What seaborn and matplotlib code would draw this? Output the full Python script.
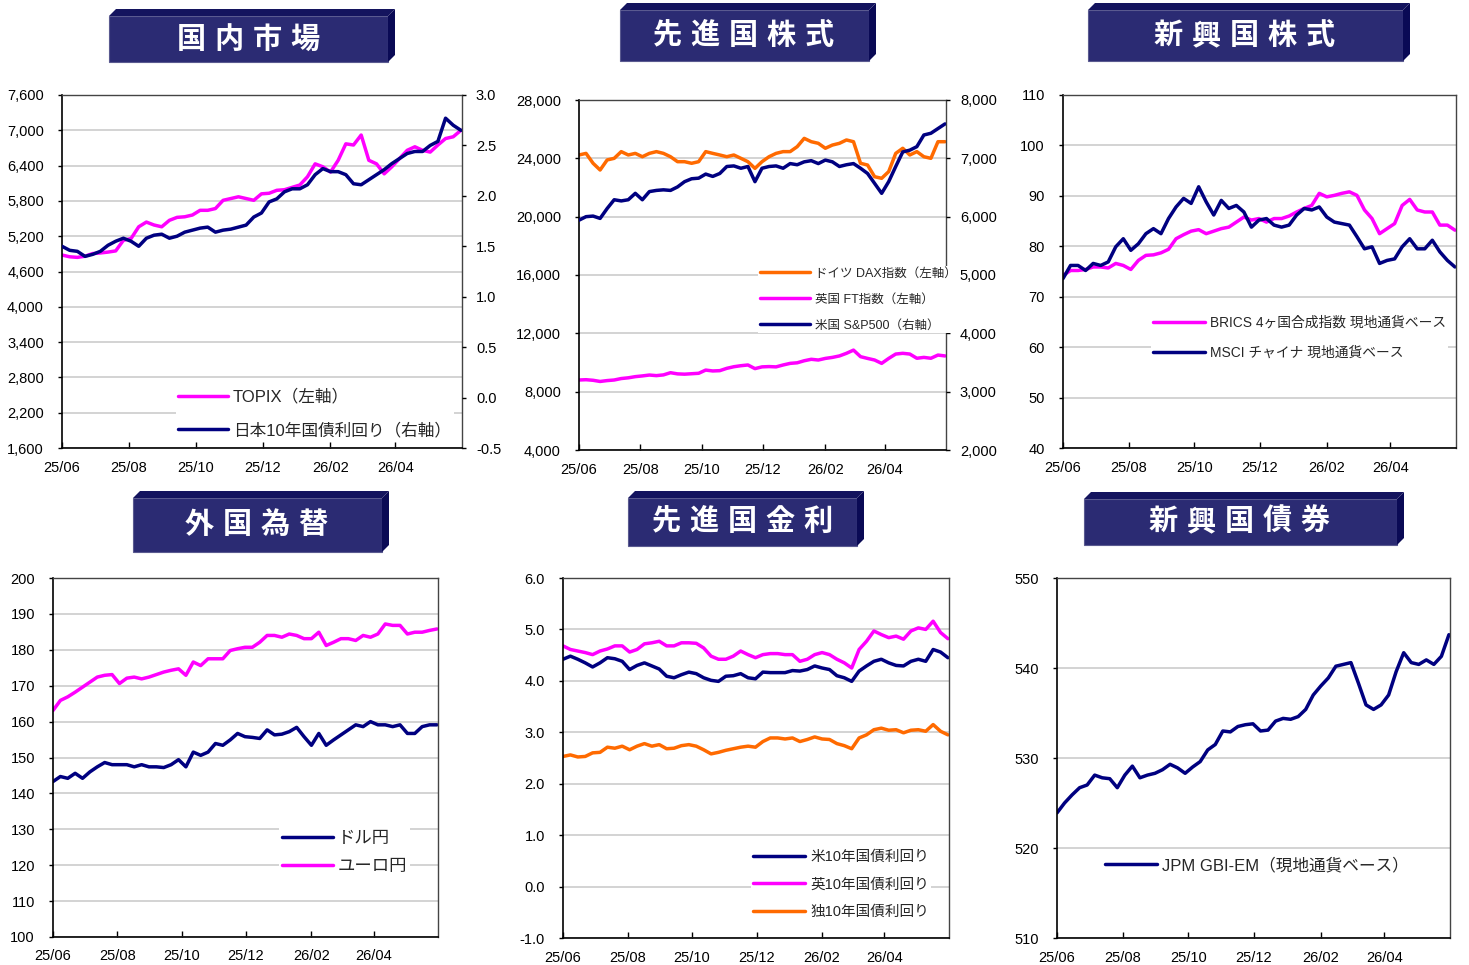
import numpy as np
import pandas as pd
import matplotlib
matplotlib.use('Agg')
import matplotlib.pyplot as plt
import matplotlib.dates as mdates
from matplotlib.ticker import FuncFormatter, FixedLocator
from matplotlib.patches import Polygon
import seaborn as sns

# ---------------- data ----------------
dates = pd.date_range('2025-06-01', periods=53, freq='7D')
x_ticks = ['2025-06-01', '2025-08-01', '2025-10-01', '2025-12-01', '2026-02-01', '2026-04-01']

topix = [4880, 4850, 4840, 4860, 4905, 4915, 4930, 4950, 5130, 5160, 5360, 5440, 5390, 5360, 5470,
         5520, 5530, 5560, 5640, 5640, 5670, 5810, 5840, 5870, 5840, 5810, 5920, 5930, 5980, 5990,
         6030, 6070, 6210, 6430, 6380, 6290, 6490, 6770, 6750, 6920, 6490, 6430, 6260, 6380, 6520,
         6660, 6720, 6660, 6630, 6750, 6860, 6890, 7000]
jgb10 = [1.50, 1.46, 1.45, 1.40, 1.42, 1.45, 1.51, 1.55, 1.58, 1.55, 1.50, 1.58, 1.61, 1.62, 1.58,
         1.60, 1.64, 1.66, 1.68, 1.69, 1.64, 1.66, 1.67, 1.69, 1.71, 1.79, 1.83, 1.94, 1.97, 2.04,
         2.07, 2.07, 2.11, 2.21, 2.27, 2.24, 2.24, 2.21, 2.12, 2.11, 2.16, 2.21, 2.26, 2.32, 2.37,
         2.42, 2.44, 2.44, 2.50, 2.54, 2.77, 2.70, 2.65]

dax = [24230, 24340, 23660, 23200, 23890, 24000, 24460, 24230, 24340, 24110, 24340, 24460, 24340,
       24110, 23770, 23770, 23660, 23770, 24460, 24340, 24230, 24110, 24230, 24000, 23770, 23310,
       23770, 24110, 24340, 24460, 24460, 24800, 25370, 25140, 25030, 24690, 24910, 25030, 25260,
       25140, 23660, 23540, 22740, 22630, 23090, 24340, 24690, 24230, 24460, 24110, 24000, 25140, 25140]
ft = [8800, 8820, 8780, 8700, 8760, 8800, 8900, 8950, 9030, 9080, 9140, 9100, 9150, 9300, 9220,
      9200, 9230, 9260, 9480, 9420, 9440, 9600, 9710, 9780, 9830, 9580, 9700, 9720, 9700, 9830,
      9940, 9980, 10120, 10220, 10170, 10280, 10350, 10450, 10630, 10850, 10400, 10280, 10170,
      9940, 10280, 10580, 10630, 10580, 10290, 10350, 10290, 10510, 10450]
sp500 = [5940, 6000, 6010, 5970, 6140, 6290, 6270, 6290, 6400, 6290, 6430, 6450, 6460, 6450, 6510,
         6600, 6650, 6660, 6730, 6690, 6740, 6860, 6870, 6830, 6860, 6600, 6830, 6860, 6870, 6830,
         6910, 6890, 6940, 6960, 6910, 6970, 6940, 6860, 6890, 6910, 6830, 6740, 6570, 6400, 6600,
         6860, 7110, 7140, 7200, 7400, 7430, 7510, 7590]

brics = [74.2, 75.2, 75.2, 75.4, 75.9, 75.9, 75.7, 76.6, 76.2, 75.4, 77.2, 78.2, 78.3, 78.7, 79.4,
         81.5, 82.3, 83.0, 83.3, 82.5, 83.0, 83.5, 83.8, 84.8, 85.8, 85.2, 85.5, 84.8, 85.5, 85.5,
         86.0, 86.8, 87.5, 88.1, 90.5, 89.8, 90.1, 90.5, 90.8, 90.1, 87.2, 85.5, 82.5, 83.5, 84.5,
         88.1, 89.3, 87.2, 86.8, 86.8, 84.2, 84.2, 83.2]
msci_china = [73.6, 76.2, 76.2, 75.2, 76.6, 76.2, 76.9, 79.9, 81.5, 79.2, 80.5, 82.5, 83.5, 82.5,
              85.5, 87.8, 89.5, 88.5, 91.8, 88.8, 86.2, 89.1, 87.5, 88.1, 86.8, 83.8, 85.2, 85.5,
              84.2, 83.8, 84.2, 86.2, 87.5, 87.2, 87.8, 85.8, 84.8, 84.5, 84.2, 81.9, 79.5, 79.9,
              76.6, 77.2, 77.5, 79.9, 81.5, 79.5, 79.5, 81.2, 78.9, 77.2, 75.9]

eurjpy = [163.1, 165.9, 166.9, 168.2, 169.6, 171.0, 172.4, 172.9, 173.1, 170.6, 172.1, 172.4, 171.9,
          172.4, 173.1, 173.8, 174.3, 174.7, 172.9, 176.6, 175.6, 177.5, 177.5, 177.5, 179.8, 180.3,
          180.7, 180.7, 182.1, 184.0, 184.0, 183.5, 184.4, 184.0, 183.1, 183.1, 184.9, 181.2, 182.1,
          183.1, 183.1, 182.6, 184.0, 183.5, 184.4, 187.2, 186.8, 186.8, 184.4, 184.9, 184.9, 185.4, 185.8]
usdjpy = [143.3, 144.7, 144.2, 145.6, 144.2, 146.0, 147.4, 148.6, 148.0, 148.0, 148.0, 147.4, 148.0,
          147.4, 147.4, 147.2, 148.0, 149.4, 147.4, 151.5, 150.6, 151.5, 153.9, 153.4, 154.9, 156.7,
          155.8, 155.6, 155.3, 157.7, 156.3, 156.5, 157.2, 158.4, 155.8, 153.4, 156.7, 153.4, 154.9,
          156.3, 157.7, 159.1, 158.6, 160.0, 159.1, 159.1, 158.6, 159.1, 156.7, 156.7, 158.6, 159.1, 159.1]

us10 = [4.42, 4.48, 4.42, 4.35, 4.27, 4.35, 4.45, 4.43, 4.38, 4.22, 4.30, 4.35, 4.29, 4.23, 4.09,
        4.06, 4.12, 4.17, 4.14, 4.06, 4.01, 3.99, 4.09, 4.10, 4.14, 4.06, 4.04, 4.17, 4.16, 4.16,
        4.16, 4.20, 4.19, 4.22, 4.29, 4.25, 4.22, 4.10, 4.06, 3.99, 4.19, 4.29, 4.38, 4.42, 4.35,
        4.30, 4.29, 4.38, 4.42, 4.38, 4.61, 4.56, 4.45]
uk10 = [4.68, 4.61, 4.58, 4.55, 4.51, 4.58, 4.62, 4.68, 4.68, 4.56, 4.61, 4.72, 4.74, 4.77, 4.68,
        4.68, 4.74, 4.74, 4.73, 4.64, 4.48, 4.42, 4.42, 4.48, 4.58, 4.51, 4.45, 4.51, 4.53, 4.53,
        4.51, 4.51, 4.38, 4.42, 4.51, 4.55, 4.51, 4.42, 4.35, 4.25, 4.61, 4.77, 4.97, 4.90, 4.84,
        4.87, 4.81, 4.97, 5.03, 5.00, 5.16, 4.94, 4.82]
de10 = [2.53, 2.56, 2.52, 2.53, 2.60, 2.61, 2.71, 2.69, 2.73, 2.66, 2.73, 2.78, 2.73, 2.76, 2.68,
        2.69, 2.74, 2.76, 2.73, 2.66, 2.58, 2.61, 2.65, 2.68, 2.71, 2.73, 2.71, 2.82, 2.89, 2.89,
        2.87, 2.89, 2.82, 2.86, 2.91, 2.87, 2.86, 2.78, 2.74, 2.68, 2.89, 2.95, 3.05, 3.08, 3.04,
        3.05, 2.99, 3.04, 3.05, 3.02, 3.15, 3.02, 2.95]

gbi_em = [523.9, 525.0, 525.9, 526.7, 527.0, 528.1, 527.8, 527.7, 526.7, 528.1, 529.1, 527.8, 528.1,
          528.3, 528.7, 529.3, 528.9, 528.3, 529.0, 529.6, 530.9, 531.5, 533.0, 532.9, 533.5, 533.7,
          533.8, 533.0, 533.1, 534.1, 534.4, 534.3, 534.6, 535.4, 537.0, 538.0, 538.9, 540.2, 540.4,
          540.6, 538.3, 535.9, 535.4, 535.9, 537.0, 539.6, 541.7, 540.6, 540.4, 540.9, 540.4, 541.3, 543.7]

titles = ['国内市場', '先進国株式', '新興国株式', '外国為替', '先進国金利', '新興国債券']

# ---------------- style ----------------
sns.set_theme(style='white')
plt.rcParams['font.family'] = ['Liberation Sans', 'Noto Sans CJK JP', 'DejaVu Sans']
plt.rcParams['axes.unicode_minus'] = False

MAG = '#FF00FF'
NAVY = '#000080'
ORG = '#FF6A00'
LW = 2.5
TICK_FS = 10.5

W, H = 1469, 965
fig = plt.figure(figsize=(W / 100, H / 100), dpi=100)
fig.patch.set_facecolor('white')


def px_rect(l, t, r, b):
    return [l / W, 1 - b / H, (r - l) / W, (b - t) / H]


def comma(v, p):
    return f'{v:,.0f}'


def one_dec(v, p):
    return f'{v:.1f}'


def integer(v, p):
    return f'{v:.0f}'


def base_axes(rect, ylim, yticks, fmt):
    ax = fig.add_axes(px_rect(*rect))
    ax.set_facecolor('white')
    ax.set_xlim(pd.Timestamp('2025-06-01'), pd.Timestamp('2026-06-01'))
    ax.set_xticks(pd.to_datetime(x_ticks))
    ax.xaxis.set_major_formatter(mdates.DateFormatter('%y/%m'))
    ax.set_ylim(*ylim)
    ax.yaxis.set_major_locator(FixedLocator(yticks))
    ax.yaxis.set_major_formatter(FuncFormatter(fmt))
    ax.grid(axis='y', color='#C8C8C8', lw=1.1)
    ax.grid(axis='x', visible=False)
    ax.tick_params(axis='x', direction='in', length=4, width=1, pad=9, labelsize=TICK_FS,
                   colors='black', bottom=True)
    ax.tick_params(axis='y', direction='out', length=3, width=1, pad=10, labelsize=TICK_FS,
                   colors='black', left=True)
    for s in ['left', 'bottom']:
        ax.spines[s].set_color('black')
        ax.spines[s].set_linewidth(1.2)
    for s in ['top', 'right']:
        ax.spines[s].set_color('#444444')
        ax.spines[s].set_linewidth(1.0)
    return ax


def right_axes(ax, ylim, yticks, fmt):
    ax2 = ax.twinx()
    ax2.set_ylim(*ylim)
    ax2.yaxis.set_major_locator(FixedLocator(yticks))
    ax2.yaxis.set_major_formatter(FuncFormatter(fmt))
    ax2.grid(False)
    ax2.tick_params(axis='y', direction='out', length=3, width=1, pad=7, labelsize=TICK_FS,
                    colors='black', right=True)
    for s in ax2.spines.values():
        s.set_visible(False)
    return ax2


def line(ax, y, color, label):
    sns.lineplot(x=dates, y=y, ax=ax, color=color, linewidth=LW, label=label, legend=False)
    ax.set_xlabel('')
    ax.set_ylabel('')


def place_legend(ax, handles, x_px, yc_px, fs, hlen_px, ls):
    fs_px = fs * 100 / 72
    bp = 0.15
    leg = ax.legend(handles, [h.get_label() for h in handles], loc='center left',
                    bbox_to_anchor=((x_px - bp * fs_px) / W, 1 - yc_px / H),
                    bbox_transform=fig.transFigure, frameon=True, facecolor='white',
                    edgecolor='none', framealpha=1, fancybox=False, borderpad=bp,
                    borderaxespad=0, handlelength=hlen_px / fs_px,
                    handletextpad=5 / fs_px, labelspacing=ls, fontsize=fs)
    leg.set_zorder(10)
    return leg


def title_box(x0, y0, x1, y1, text, cx, cy, pitch=38, b=7):
    def P(pts):
        return [(px / W, 1 - py / H) for px, py in pts]
    front = Polygon(P([(x0, y0 + b), (x1 - b, y0 + b), (x1 - b, y1), (x0, y1)]),
                    closed=True, transform=fig.transFigure, facecolor='#2B2B73',
                    edgecolor='#5A5A90', lw=0.8)
    top = Polygon(P([(x0, y0 + b), (x0 + b, y0), (x1, y0), (x1 - b, y0 + b)]),
                  closed=True, transform=fig.transFigure, facecolor='#14145E', edgecolor='none')
    side = Polygon(P([(x1 - b, y0 + b), (x1, y0), (x1, y1 - b), (x1 - b, y1)]),
                   closed=True, transform=fig.transFigure, facecolor='#0A0A55', edgecolor='none')
    for p in (front, top, side):
        fig.add_artist(p)
    n = len(text)
    for i, ch in enumerate(text):
        fig.text((cx + (i - (n - 1) / 2) * pitch) / W, 1 - cy / H, ch, color='white',
                 fontsize=21, fontweight='bold', ha='center', va='center',
                 family=['Noto Sans CJK JP'])


# ---------------- panel 1: 国内市場 ----------------
ax1 = base_axes((62, 95, 462, 448), (1600, 7600), list(range(1600, 7601, 600)), comma)
line(ax1, topix, MAG, 'TOPIX（左軸）')
ax1b = right_axes(ax1, (-0.5, 3.0), list(np.arange(-0.5, 3.01, 0.5)), one_dec)
line(ax1b, jgb10, NAVY, '日本10年国債利回り（右軸）')
place_legend(ax1b, [ax1.lines[0], ax1b.lines[0]], 178, 413.5, 12, 50, 1.05)

# ---------------- panel 2: 先進国株式 ----------------
ax2 = base_axes((579, 100, 946, 450), (4000, 28000), list(range(4000, 28001, 4000)), comma)
line(ax2, dax, ORG, 'ドイツ DAX指数（左軸）')
line(ax2, ft, MAG, '英国 FT指数（左軸）')
ax2b = right_axes(ax2, (2000, 8000), list(range(2000, 8001, 1000)), comma)
line(ax2b, sp500, NAVY, '米国 S&P500（右軸）')
place_legend(ax2b, [ax2.lines[0], ax2.lines[1], ax2b.lines[0]], 760, 299.5, 9, 50, 1.12)

# ---------------- panel 3: 新興国株式 ----------------
ax3 = base_axes((1063, 95, 1456, 448), (40, 110), list(range(40, 111, 10)), integer)
line(ax3, brics, MAG, 'BRICS 4ヶ国合成指数 現地通貨ベース')
line(ax3, msci_china, NAVY, 'MSCI チャイナ 現地通貨ベース')
place_legend(ax3, ax3.lines[:2], 1153, 337.5, 9.9, 52, 1.16)

# ---------------- panel 4: 外国為替 ----------------
ax4 = base_axes((53, 578, 438, 937), (100, 200), list(range(100, 201, 10)), integer)
line(ax4, usdjpy, NAVY, 'ドル円')
line(ax4, eurjpy, MAG, 'ユーロ円')
place_legend(ax4, ax4.lines[:2], 282, 852.5, 12.5, 51, 0.72)

# ---------------- panel 5: 先進国金利 ----------------
ax5 = base_axes((563, 578, 949, 938), (-1.0, 6.0), list(np.arange(-1.0, 6.01, 1.0)), one_dec)
line(ax5, de10, ORG, '独10年国債利回り')
line(ax5, uk10, MAG, '英10年国債利回り')
line(ax5, us10, NAVY, '米10年国債利回り')
place_legend(ax5, [ax5.lines[2], ax5.lines[1], ax5.lines[0]], 753, 884.5, 10.5, 52, 0.92)

# ---------------- panel 6: 新興国債券 ----------------
ax6 = base_axes((1057, 578, 1450, 938), (510, 550), list(range(510, 551, 10)), integer)
line(ax6, gbi_em, NAVY, 'JPM GBI-EM（現地通貨ベース）')
place_legend(ax6, ax6.lines[:1], 1105, 865, 12, 52, 0.5)

# ---------------- title boxes ----------------
title_box(109, 9, 395, 62, titles[0], 248, 39)
title_box(620, 3, 876, 61, titles[1], 743, 35)
title_box(1088, 3, 1410, 61, titles[2], 1244, 35)
title_box(133, 491, 389, 552, titles[3], 256, 524)
title_box(628, 491, 864, 546, titles[4], 742, 521)
title_box(1084, 492, 1404, 545, titles[5], 1239, 521)

fig.savefig('out.png', dpi=100, facecolor='white')
